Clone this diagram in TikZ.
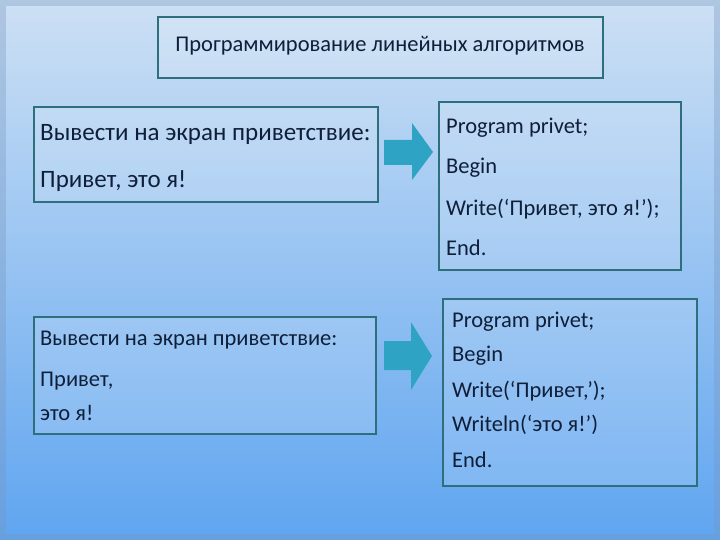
\documentclass[tikz,border=0pt]{standalone}
\usepackage{fontspec}
\setmainfont{Carlito}
\begin{document}
\begin{tikzpicture}[x=1pt,y=-1pt,
  box/.style={draw=boxc,line width=2.2pt,fill=white,fill opacity=0.15,text opacity=1},
  txt/.style={anchor=west,text=txtc,inner sep=0pt},
  arr/.style={fill=arrc,draw=none}]
\definecolor{boxc}{HTML}{2F6E7C}
\definecolor{txtc}{HTML}{0F1F3A}
\definecolor{arrc}{HTML}{2FA3C4}
\useasboundingbox (0,0) rectangle (720,540);
\shade[shading=axis,shading angle=135,left color=white,right color=white,top color={rgb,255:red,205;green,224;blue,244},bottom color={rgb,255:red,95;green,165;blue,240}] (0,0) rectangle (720,540);
\draw[line width=6pt,draw={rgb,255:red,120;green,150;blue,190},opacity=0.35] (3,3) rectangle (717,537);
% title
\node[box,minimum width=445,minimum height=61,anchor=north west] (t) at (157,16) {};
\node[text=txtc,font=\fontsize{22.5}{25}\selectfont] (tt) at (380,46) {Программирование линейных алгоритмов};
% group 1
\node[box,minimum width=344,minimum height=95,anchor=north west] (b1) at (33,106) {};
\node[txt,font=\fontsize{25}{28}\selectfont] (b1a) at (40,134) {Вывести на экран приветствие:};
\node[txt,font=\fontsize{25}{28}\selectfont] (b1b) at (40,181) {Привет, это я!};
\node[box,minimum width=242,minimum height=168,anchor=north west] (b2) at (438,101) {};
\node[txt,font=\fontsize{22.5}{25}\selectfont] (b2a) at (446,128) {Program privet;};
\node[txt,font=\fontsize{22.5}{25}\selectfont] (b2b) at (446,168) {Begin};
\node[txt,font=\fontsize{22.5}{25}\selectfont] (b2c) at (446,209) {Write(‘Привет, это я!’);};
\node[txt,font=\fontsize{22.5}{25}\selectfont] (b2d) at (446,248) {End.};
\fill[arr] (384,140) -- (412,140) -- (412,123) -- (433,152) -- (412,180) -- (412,165) -- (384,165) -- cycle;
% group 2
\node[box,minimum width=342,minimum height=117,anchor=north west] (b3) at (33,316) {};
\node[txt,font=\fontsize{22.5}{25}\selectfont] (b3a) at (40,340) {Вывести на экран приветствие:};
\node[txt,font=\fontsize{22.5}{25}\selectfont] (b3b) at (40,381) {Привет,};
\node[txt,font=\fontsize{22.5}{25}\selectfont] (b3c) at (40,413) {это я!};
\node[box,minimum width=254,minimum height=187,anchor=north west] (b4) at (442,298) {};
\node[txt,font=\fontsize{22.5}{25}\selectfont] (b4a) at (452,322) {Program privet;};
\node[txt,font=\fontsize{22.5}{25}\selectfont] (b4b) at (452,356) {Begin};
\node[txt,font=\fontsize{22.5}{25}\selectfont] (b4c) at (452,391) {Write(‘Привет,’);};
\node[txt,font=\fontsize{22.5}{25}\selectfont] (b4d) at (452,425) {Writeln(‘это я!’)};
\node[txt,font=\fontsize{22.5}{25}\selectfont] (b4e) at (452,460) {End.};
\fill[arr] (384,341) -- (411,341) -- (411,322) -- (432,356) -- (411,390) -- (411,370) -- (384,370) -- cycle;
\end{tikzpicture}
\end{document}
